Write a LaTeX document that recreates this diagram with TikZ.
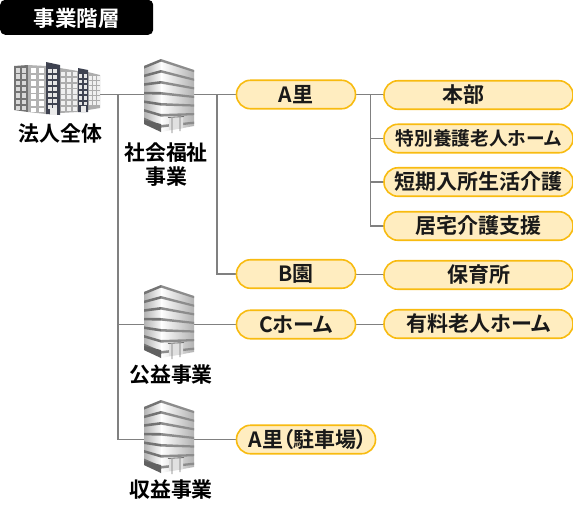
\documentclass[tikz,border=0pt]{standalone}
\usepackage{fontspec}
\setmainfont{Noto Sans CJK JP}[BoldFont={* Bold},RawFeature={+palt}]
\usetikzlibrary{calc}
\definecolor{pillfill}{HTML}{FFEDC0}
\definecolor{pilldraw}{HTML}{F8BB10}
\definecolor{conn}{HTML}{808080}
\definecolor{slate}{HTML}{3E4250}
\tikzset{
  pill/.style={rounded corners=14pt,draw=pilldraw,line width=1.6pt,fill=pillfill,minimum height=28.5pt,inner sep=0pt,font=\fontsize{21}{21}\selectfont\bfseries,text=black!90},
  narrowpill/.style={pill,font=\fontsize{18.7}{18.7}\selectfont\bfseries},
  wire/.style={draw=conn,line width=1.3pt},
  captext/.style={font=\fontsize{20.9}{24}\selectfont\bfseries,align=center,inner sep=0pt},
  tower/.pic={
    \shade[left color=black!30,right color=black!2] (0,8)--(17,1)--(17,74)--(0,66)--cycle;
    \shade[left color=white,right color=black!30] (17,1)--(50,12)--(50,68)--(17,74)--cycle;
    \foreach \i in {0,1,2,3,4,5,6}{
      \pgfmathsetmacro{\a}{8+\i*8.6}\pgfmathsetmacro{\b}{1+\i*11}\pgfmathsetmacro{\c}{12+\i*8.6}
      \fill[black!55] (0,\a)--(17,\b)--(17,\b+2.6)--(0,\a+2.6)--cycle;
      \fill[black!45] (17,\b)--(50,\c)--(50,\c+2.2)--(17,\b+2.6)--cycle;
    }
    \fill[black!62] (0,62)--(17,66)--(17,74)--(0,66)--cycle;
    \fill[black!12] (25,60)--(39,59)--(39,70)--(25,72)--cycle;
    \draw[black!55,line width=.8pt] (24,59.5)--(40,58.5) (28,60)--(28,75) (36,59)--(36,73);
  }
}
\newcommand{\winrow}[7]{% x0, y0, dx, dy, cols, rows, colour
  \foreach \ci in {1,...,#5}{\foreach \ri in {1,...,#6}{
    \fill[#7] ({#1+(\ci-1)*#3},{#2+(\ri-1)*#4}) rectangle ++({#3*.72},{#4*.72});
  }}}
\begin{document}
\begin{tikzpicture}[x=1pt,y=-1pt]
\useasboundingbox (0,0) rectangle (573,507);
\fill[white] (0,0) rectangle (573,507);
\node[fill=black,rounded corners=5pt,minimum width=153pt,minimum height=35pt,inner sep=0pt,anchor=south west] (title) at (0,35) {};
\node[text=white,font=\fontsize{21.5}{21.5}\selectfont\bfseries,inner sep=0pt] (titlet) at (77,18) {事業階層};
\node[inner sep=0pt,minimum width=1pt,minimum height=1pt] (rootb) at (100,94.5) {};
\node[inner sep=0pt,minimum width=50pt,minimum height=70pt] (t1) at (169,94.5) {};
\node[inner sep=0pt,minimum width=50pt,minimum height=70pt] (t2) at (169,324.5) {};
\node[inner sep=0pt,minimum width=50pt,minimum height=70pt] (t3) at (169,439.5) {};
\draw[wire] (rootb.center) -- (t1.west);
\draw[wire] (118,94.5) |- (t3.west);
\draw[wire] (118,324.5) -- (t2.west);
\draw[wire] (t1.east) -- (236,94.5);
\draw[wire] (217,94.5) |- (236,274);
\draw[wire] (t2.east) -- (236,324.5);
\draw[wire] (t3.east) -- (236,439.5);
\draw[wire] (356,94.5) -- (384,94.5);
\draw[wire] (370.5,94.5) |- (384,226);
\draw[wire] (370.5,138.5) -- (384,138.5);
\draw[wire] (370.5,182) -- (384,182);
\draw[wire] (356,274.5) -- (384,274.5);
\draw[wire] (356,324.5) -- (384,324.5);
\node[pill,minimum width=119pt] (a) at (296,94.5) {A里};
\node[pill,minimum width=119pt] (b) at (296,274) {B園};
\node[pill,minimum width=119pt] (c) at (296,324.5) {Cホーム};
\node[pill,minimum width=139pt] (a2) at (306,439.5) {\hspace*{4pt}A里（駐車場）};
\node[pill,minimum width=189pt] (h) at (478.5,95) {本部\hspace*{30pt}};
\node[narrowpill,minimum width=189pt] (s) at (478.5,138.5) {特別養護老人ホーム};
\node[pill,minimum width=189pt] (d) at (478.5,182) {短期入所生活介護};
\node[pill,minimum width=189pt] (k) at (478.5,226) {居宅介護支援};
\node[pill,minimum width=189pt] (p) at (478.5,275) {保育所};
\node[pill,minimum width=189pt] (y) at (478.5,324) {有料老人ホーム};
\pic at (144,58) {tower};
\pic at (144,284) {tower};
\pic at (144,399) {tower};
% large building
\fill[black!55] (14,66)--(28,65)--(28,112)--(14,110)--cycle;
\winrow{15.5}{68}{6.2}{6.3}{2}{7}{white!85!black}
\fill[black!30] (28,65)--(46,66)--(46,114)--(28,112)--cycle;
\winrow{31}{68}{7.5}{6.6}{2}{7}{white}
\fill[black!32] (60,68)--(78,71)--(78,112)--(60,113)--cycle;
\winrow{61}{72}{5.8}{5.8}{3}{7}{black!6}
\fill[black!32] (88,72)--(100,75)--(100,108)--(88,110)--cycle;
\winrow{89}{76}{3.9}{5}{3}{6}{black!6}
\fill[slate] (46,62)--(60,65)--(60,115)--(46,114)--cycle;
\winrow{47.5}{69}{5.6}{6}{2}{7}{black!10}
\fill[black!8] (50,108)--(57,108)--(57,115)--(50,115)--cycle;
\fill[slate] (78,68)--(88,70)--(88,112)--(78,112)--cycle;
\winrow{79}{74}{4.6}{5.5}{2}{6}{black!10}
\fill[black!8] (81,106)--(86,106)--(86,112)--(81,112)--cycle;
\node[captext] (l0) at (60.5,134) {法人全体};
\node[captext] (l1) at (166,164.5) {社会福祉\\事業};
\node[captext] (l2) at (171,375) {公益事業};
\node[captext] (l3) at (171,490) {収益事業};
\end{tikzpicture}
\end{document}
